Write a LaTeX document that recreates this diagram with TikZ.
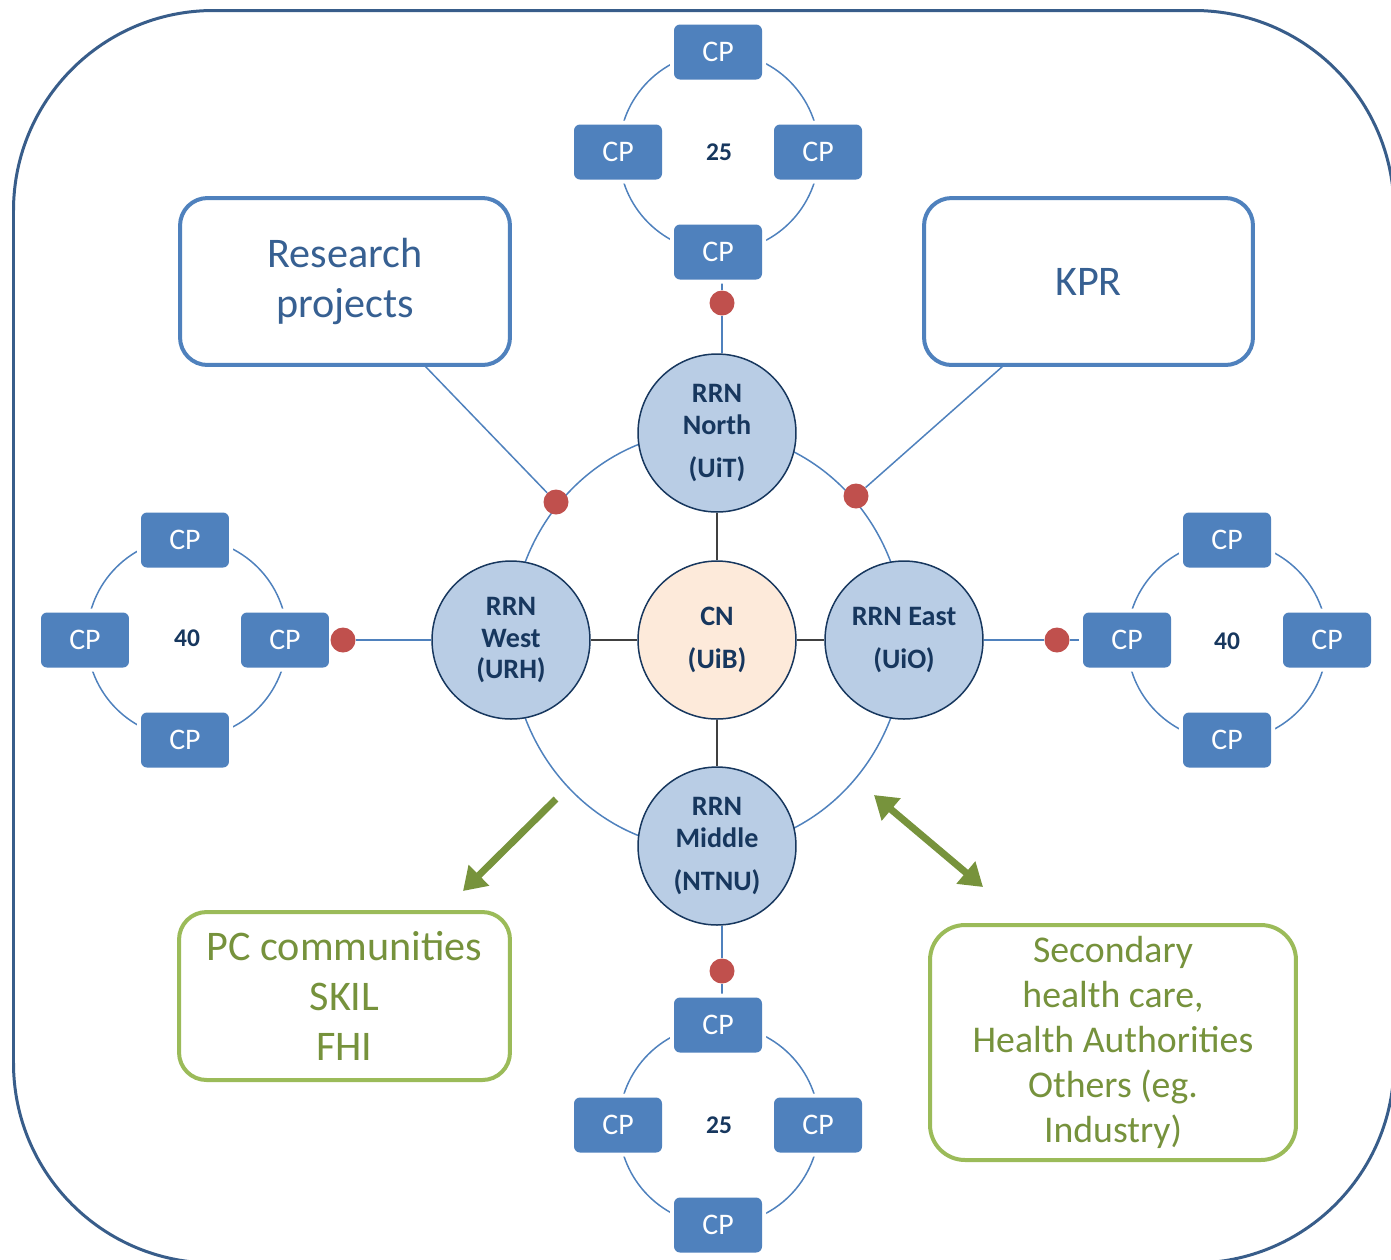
\documentclass[tikz,border=0pt]{standalone}
\usepackage{fontspec}
\setmainfont{Carlito}
\usetikzlibrary{arrows.meta,backgrounds}

\definecolor{frameblue}{HTML}{385D8A}
\definecolor{cpblue}{HTML}{4F81BD}
\definecolor{textblue}{HTML}{376092}
\definecolor{navy}{HTML}{17375E}
\definecolor{rrnfill}{HTML}{B9CDE5}
\definecolor{hubfill}{HTML}{FDEADA}
\definecolor{dotred}{HTML}{C0504D}
\definecolor{boxgreen}{HTML}{9BBB59}
\definecolor{textgreen}{HTML}{76923C}
\definecolor{arrowgreen}{HTML}{77933C}
\definecolor{spokegray}{HTML}{404040}

\begin{document}
\begin{tikzpicture}[x=0.02cm, y=-0.02cm,
    cp/.style={rectangle, rounded corners=0.12cm, fill=cpblue, text=white,
               minimum width=1.76cm, minimum height=1.1cm, inner sep=0pt,
               font=\fontsize{17}{20}\selectfont,
               preaction={draw=white, line width=0.16cm}},
    num/.style={text=navy, font=\fontsize{14.5}{16}\selectfont\bfseries},
    rrn/.style={circle, draw=navy, line width=0.03cm, fill=rrnfill,
                minimum size=3.16cm, inner sep=0pt, align=center,
                text=navy, font=\fontsize{16}{18}\selectfont\bfseries},
    hub/.style={rrn, fill=hubfill},
    reddot/.style={circle, fill=dotred, minimum size=0.5cm, inner sep=0pt},
    infobox/.style={rectangle, rounded corners=0.55cm, draw=cpblue,
                    line width=0.08cm, fill=white, align=center,
                    text=textblue, font=\fontsize{24}{28.3}\selectfont},
    partner/.style={infobox, draw=boxgreen, text=textgreen},
    outerframe/.style={draw=frameblue, line width=0.06cm, rounded corners=4cm},
    ring/.style={draw=cpblue, line width=0.03cm},
    spoke/.style={draw=spokegray, line width=0.03cm},
    flow/.style={draw=arrowgreen, line width=0.14cm,
                 -{Triangle[length=0.45cm, width=0.56cm]}},
    flowboth/.style={flow,
                 {Triangle[length=0.45cm, width=0.56cm]}-{Triangle[length=0.45cm, width=0.56cm]}}
]
\useasboundingbox (0,0) rectangle (1391,1259);

% Regional network
\node[rrn] (north)  at (717,433) {RRN\\North\\[6.3pt](UiT)};
\node[rrn] (west)   at (511,640) {RRN\\West\\(URH)};
\node[hub] (cn)     at (717,640) {CN\\[6.3pt](UiB)};
\node[rrn] (east)   at (904,640) {RRN East\\[6.3pt](UiO)};
\node[rrn] (middle) at (717,846) {RRN\\Middle\\[6.3pt](NTNU)};
\coordinate (ringc) at (708,640);

% Partner boxes
\node[infobox, minimum width=6.6cm, minimum height=3.34cm] (research) at (345,281.5) {Research\\projects};
\node[infobox, minimum width=6.58cm, minimum height=3.34cm] (kpr) at (1088.5,281.5) {KPR};
\node[partner, minimum width=6.62cm, minimum height=3.36cm] (pc) at (344.5,996) {PC communities\\SKIL\\FHI};
\node[partner, minimum width=7.32cm, minimum height=4.7cm, rounded corners=0.7cm,
      font=\fontsize{21.5}{25.5}\selectfont] (secondary) at (1113,1042.5)
      {Secondary\\health care,\\Health Authorities\\Others (eg.\\Industry)};
\coordinate (rpFoot)  at (425,366);
\coordinate (kprFoot) at (1003,366);

% CP cluster north (25)
\node[num] (numN) at (719,152) {25};
\node[cp] (cpNt) at (718,52)  {CP};
\node[cp] (cpNl) at (618,152) {CP};
\node[cp] (cpNr) at (818,152) {CP};
\node[cp] (cpNb) at (718,252) {CP};

% CP cluster west (40)
\node[num] (numW) at (187,638) {40};
\node[cp] (cpWt) at (185,540) {CP};
\node[cp] (cpWl) at (85,640)  {CP};
\node[cp] (cpWr) at (285,640) {CP};
\node[cp] (cpWb) at (185,740) {CP};

% CP cluster east (40)
\node[num] (numE) at (1227,641) {40};
\node[cp] (cpEt) at (1227,540) {CP};
\node[cp] (cpEl) at (1127,640) {CP};
\node[cp] (cpEr) at (1327,640) {CP};
\node[cp] (cpEb) at (1227,740) {CP};

% CP cluster south (25)
\node[num] (numS) at (719,1125) {25};
\node[cp] (cpSt) at (718,1025) {CP};
\node[cp] (cpSl) at (618,1125) {CP};
\node[cp] (cpSr) at (818,1125) {CP};
\node[cp] (cpSb) at (718,1225) {CP};

% Contact points
\node[reddot] (dotN)  at (722,303)  {};
\node[reddot] (dotS)  at (722,971)  {};
\node[reddot] (dotW)  at (343,640)  {};
\node[reddot] (dotE)  at (1057,640) {};
\node[reddot] (dotRP) at (556,502)  {};
\node[reddot] (dotKP) at (856,496)  {};

% Arrow ends
\coordinate (pcTail) at (556,799);
\coordinate (pcTip)  at (463,891);
\coordinate (secTop) at (874,795);
\coordinate (secBot) at (983,887);

\begin{scope}[on background layer]
\draw[outerframe] (13.5,10.5) rectangle (1394,1263);
\draw[ring] (ringc) ellipse [x radius=3.94cm, y radius=4.18cm];
\draw[ring] (numN.center) circle (2cm);
\draw[ring] (numW.center) circle (2cm);
\draw[ring] (numE.center) circle (2cm);
\draw[ring] (numS.center) circle (2cm);

% CN spokes
\draw[spoke] (cn) -- (north);
\draw[spoke] (cn) -- (west);
\draw[spoke] (cn) -- (east);
\draw[spoke] (cn) -- (middle);

% Links to clusters
\draw[ring] (cpNb.south -| dotN) -- (dotN) -- (dotN |- north.north);
\draw[ring] (dotS |- middle.south) -- (dotS) -- (cpSt.north -| dotS);
\draw[ring] (cpWr) -- (dotW) -- (west);
\draw[ring] (east) -- (dotE) -- (cpEl);
\draw[ring] (rpFoot) -- (dotRP);
\draw[ring] (kprFoot) -- (dotKP);
\end{scope}

% Green arrows
\draw[flow] (pcTail) -- (pcTip);
\draw[flowboth] (secTop) -- (secBot);

\end{tikzpicture}
\end{document}
